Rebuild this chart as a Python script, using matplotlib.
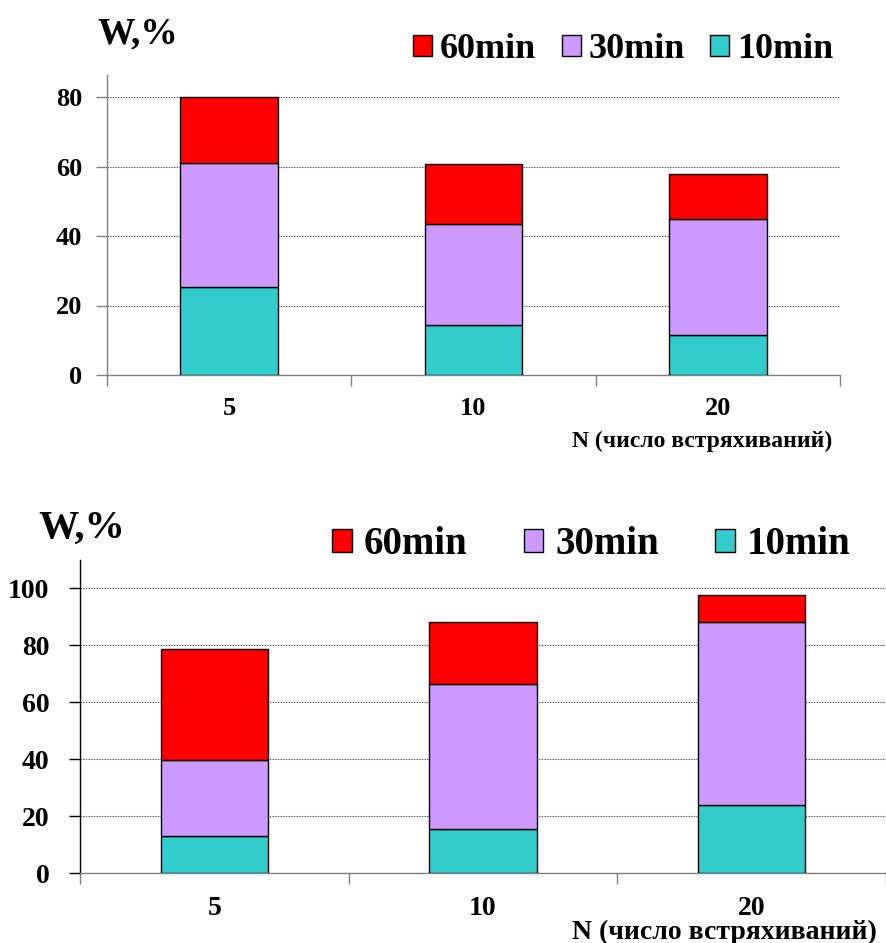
import matplotlib
matplotlib.use("Agg")
import matplotlib.pyplot as plt
from matplotlib.patches import Patch

plt.rcParams['font.family'] = ['Liberation Serif', 'DejaVu Serif']
plt.rcParams['font.weight'] = 'bold'

# Number of shakes per group
categories = ['5', '10', '20']
series_order = ['10min', '30min', '60min']
series_colors = {'10min': '#33CCCC', '30min': '#CC99FF', '60min': '#FF0000'}

# Upper chart: stacked W, % contributions
upper_10min = [25.2, 14.4, 11.5]
upper_30min = [35.9, 29.0, 33.3]
upper_60min = [18.9, 17.2, 13.0]

# Lower chart: stacked W, % contributions
lower_10min = [13.1, 15.7, 24.0]
lower_30min = [26.7, 50.7, 64.3]
lower_60min = [38.8, 21.7, 9.2]

upper_ticks = [0, 20, 40, 60, 80]
lower_ticks = [0, 20, 40, 60, 80, 100]

xlabel = 'N (число встряхиваний)'
ylabel = 'W,%'

W, H = 886, 943
fig = plt.figure(figsize=(W / 100, H / 100), dpi=100)


def box(x0, y_top, x1, y_bottom):
    return [x0 / W, 1 - y_bottom / H, (x1 - x0) / W, (y_bottom - y_top) / H]


def draw_panel(ax, data, yticks, ymax, xmax, left_color, ypad, xpad, tick_size):
    x = list(range(len(categories)))
    bottom = [0.0] * len(categories)
    for name, vals in zip(series_order, data):
        ax.bar(x, vals, width=0.4, bottom=bottom, color=series_colors[name],
               edgecolor='black', linewidth=1.0, zorder=3)
        bottom = [b + v for b, v in zip(bottom, vals)]
    ax.set_xlim(-0.5, xmax)
    ax.set_ylim(0, ymax)
    ax.set_yticks(yticks)
    ax.set_yticklabels([str(t) for t in yticks])
    ax.yaxis.grid(True, linestyle=(0, (1.2, 1.2)), color='#505050', linewidth=0.8)
    ax.set_axisbelow(True)
    for s in ('top', 'right'):
        ax.spines[s].set_visible(False)
    ax.spines['left'].set_color(left_color)
    ax.spines['bottom'].set_color('#808080')
    ax.spines['left'].set_linewidth(1.0)
    ax.spines['bottom'].set_linewidth(1.0)
    ax.tick_params(axis='y', length=8, width=1.0, color=left_color, pad=ypad,
                   labelsize=tick_size)
    ax.set_xticks([i - 0.5 for i in range(len(categories) + 1)])
    ax.set_xticklabels([])
    ax.set_xticks(x, minor=True)
    ax.set_xticklabels(categories, minor=True)
    ax.tick_params(axis='x', which='major', length=8, width=1.0, color='#808080')
    ax.tick_params(axis='x', which='minor', length=0, pad=xpad, labelsize=tick_size)
    for lab in ax.get_yticklabels() + ax.get_xticklabels(minor=True):
        lab.set_fontweight('bold')


def add_legend(ax, anchor, size, hl, tp, cs):
    handles = [Patch(facecolor=series_colors[n], edgecolor='black', linewidth=1.0)
               for n in ['60min', '30min', '10min']]
    ax.legend(handles, ['60min', '30min', '10min'], ncol=3, frameon=False,
              loc='center left', bbox_to_anchor=anchor, bbox_transform=fig.transFigure,
              prop={'family': 'Liberation Serif', 'weight': 'bold', 'size': size},
              handlelength=hl, handleheight=hl, handletextpad=tp, columnspacing=cs,
              borderpad=0, borderaxespad=0)


# Upper panel
ax1 = fig.add_axes(box(107, 75, 840, 375))
draw_panel(ax1, [upper_10min, upper_30min, upper_60min], upper_ticks,
           80 * 300 / 278, 2.5, '#808080', 10, 16, 19)
add_legend(ax1, (413 / W, 1 - 50 / H), 26, 0.53, 0.22, 0.7)
fig.text(98 / W, 1 - 43 / H, ylabel, ha='left', va='baseline', fontsize=27,
         fontweight='bold')
fig.text(832 / W, 1 - 441 / H, xlabel, ha='right', va='center', fontsize=17,
         fontweight='bold')

# Lower panel
ax2 = fig.add_axes(box(80, 560, 886, 873.3))
draw_panel(ax2, [lower_10min, lower_30min, lower_60min], lower_ticks,
           100 * 313.3 / 285, 2.5 - 11 / 272, 'black', 14, 16, 20)
add_legend(ax2, (332 / W, 1 - 545 / H), 28, 0.51, 0.3, 1.45)
fig.text(38 / W, 1 - 538 / H, ylabel, ha='left', va='baseline', fontsize=29,
         fontweight='bold')
fig.text(877 / W, 1 - 932 / H, xlabel, ha='right', va='center', fontsize=20,
         fontweight='bold')

fig.savefig('out.png', dpi=100)
